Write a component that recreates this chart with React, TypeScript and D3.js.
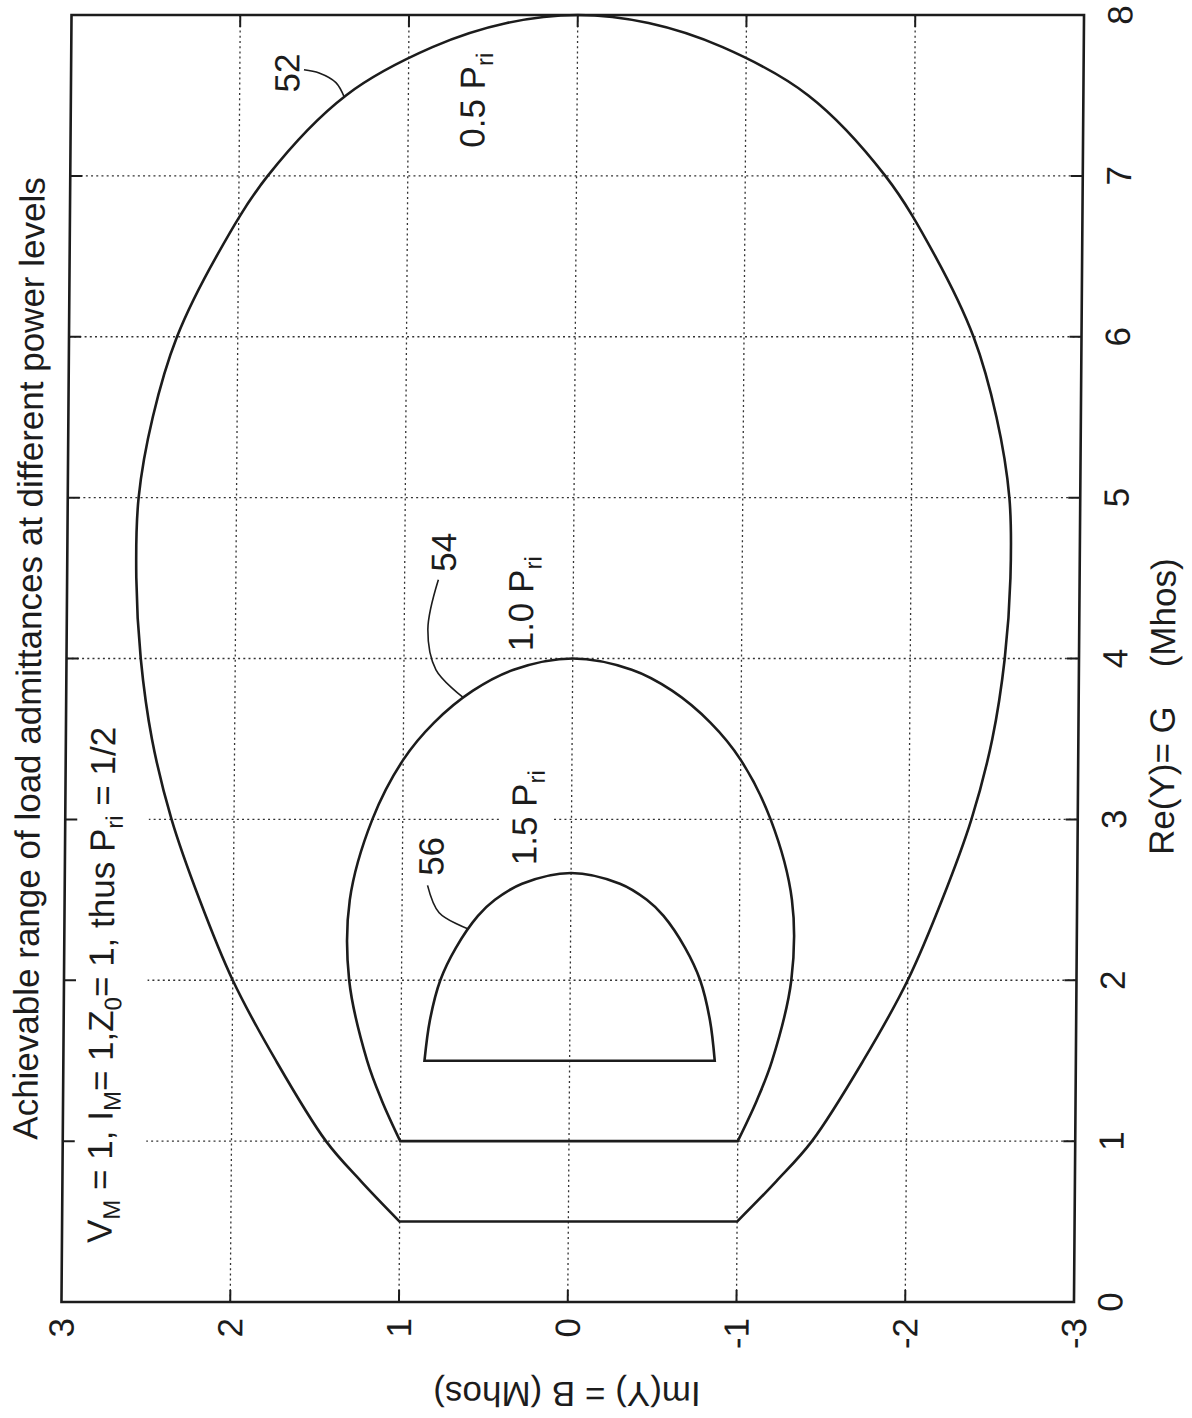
import React, { useLayoutEffect, useRef } from "react";
import * as d3 from "d3";

type Pt = [number, number]; // [G, B]

const gTicks = [0, 1, 2, 3, 4, 5, 6, 7, 8];
const bTicks = [3, 2, 1, 0, -1, -2, -3];
const gGrid = [1, 2, 3, 4, 5, 6, 7];
const bGrid = [2, 1, 0, -1, -2];

const titleText = "Achievable range of load admittances at different power levels";
const xLabelText = "Re(Y)= G    (Mhos)";
const yLabelText = "Im(Y) = B (Mhos)";

// curve 52 : 0.5 P_ri
const curve52: Pt[] = [
  [0.5, 1.0], [0.75, 1.23], [1.0, 1.44], [1.5, 1.74], [2.0, 2.0], [2.5, 2.2],
  [3.0, 2.37], [3.5, 2.49], [4.0, 2.56], [4.5, 2.59], [5.0, 2.58], [5.5, 2.5],
  [6.0, 2.36], [6.5, 2.13], [7.0, 1.83], [7.5, 1.37], [7.8, 0.86], [7.95, 0.42], [8.0, 0],
  [7.95, -0.42], [7.8, -0.86], [7.5, -1.37], [7.0, -1.83], [6.5, -2.13], [6.0, -2.36],
  [5.5, -2.5], [5.0, -2.58], [4.5, -2.59], [4.0, -2.56], [3.5, -2.49], [3.0, -2.37],
  [2.5, -2.2], [2.0, -2.0], [1.5, -1.74], [1.0, -1.44], [0.75, -1.23], [0.5, -1.0],
];

// curve 54 : 1.0 P_ri
const curve54: Pt[] = [
  [1.0, 1.0], [1.25, 1.11], [1.5, 1.2], [2.0, 1.31], [2.5, 1.31], [3.0, 1.18],
  [3.37, 1.0], [3.6, 0.82], [3.8, 0.59], [3.93, 0.35], [4.0, 0],
  [3.93, -0.35], [3.8, -0.59], [3.6, -0.82], [3.37, -1.0], [3.0, -1.18],
  [2.5, -1.31], [2.0, -1.31], [1.5, -1.2], [1.25, -1.11], [1.0, -1.0],
];

// curve 56 : 1.5 P_ri
const curve56: Pt[] = [
  [1.5, 0.86], [1.75, 0.83], [2.0, 0.77], [2.2, 0.68], [2.4, 0.55], [2.5, 0.45],
  [2.6, 0.29], [2.667, 0],
  [2.6, -0.29], [2.5, -0.45], [2.4, -0.55], [2.2, -0.68], [2.0, -0.77], [1.75, -0.83], [1.5, -0.86],
];

// reference-number leader lines
const leader52: Pt[] = [[7.66, 1.62], [7.64, 1.53], [7.58, 1.43], [7.49, 1.38]];
const leader54: Pt[] = [[4.49, 0.8], [4.18, 0.86], [3.93, 0.81], [3.76, 0.65]];
const leader56: Pt[] = [[2.59, 0.85], [2.42, 0.78], [2.32, 0.61]];

const refLabels: { text: string; at: Pt }[] = [
  { text: "52", at: [7.64, 1.72] },
  { text: "54", at: [4.66, 0.77] },
  { text: "56", at: [2.77, 0.83] },
];
const powerLabels: { main: string; at: Pt }[] = [
  { main: "0.5 P", at: [7.47, 0.62] },
  { main: "1.0 P", at: [4.34, 0.31] },
  { main: "1.5 P", at: [3.01, 0.28] },
];

const W = 1192;
const H = 1418;
const FONT = "'Liberation Sans', Arial, Helvetica, sans-serif";
const FS = 35;
const INK = "#1c1c1c";

const xB = d3.scaleLinear().domain([3, -3]).range([66.5, 1079]);
const yG = d3.scaleLinear().domain([0, 8]).range([1302, 15]);

const shapeLine = d3
  .line<Pt>()
  .x((d) => xB(d[1]))
  .y((d) => yG(d[0]))
  .curve(d3.curveCatmullRom.alpha(0.5));

const leaderLine = d3
  .line<Pt>()
  .x((d) => xB(d[1]))
  .y((d) => yG(d[0]))
  .curve(d3.curveCatmullRom.alpha(0.5));

function Boxed(props: {
  transform: string;
  anchor: string;
  dy?: string;
  padAcross: number;
  padAlong: number;
  children: React.ReactNode;
}) {
  const tRef = useRef<SVGTextElement>(null);
  const rRef = useRef<SVGRectElement>(null);
  useLayoutEffect(() => {
    const t = tRef.current;
    const r = rRef.current;
    if (!t || !r) return;
    const bb = t.getBBox();
    r.setAttribute("x", String(bb.x - props.padAlong));
    r.setAttribute("y", String(bb.y - props.padAcross));
    r.setAttribute("width", String(bb.width + 2 * props.padAlong));
    r.setAttribute("height", String(bb.height + 2 * props.padAcross));
  });
  return (
    <g transform={props.transform}>
      <rect ref={rRef} fill="#fff" />
      <text
        ref={tRef}
        textAnchor={props.anchor as any}
        dy={props.dy}
        fontFamily={FONT}
        fontSize={FS}
        fill={INK}
        style={{ whiteSpace: "pre" }}
      >
        {props.children}
      </text>
    </g>
  );
}

export default function App() {
  const yc = 658;
  const skew = (Math.atan(-0.0078) * 180) / Math.PI;
  const x0 = xB(3);
  const x1 = xB(-3);
  const y0 = yG(8);
  const y1 = yG(0);
  const tick = 12;

  return (
    <svg
      width={W}
      height={H}
      viewBox={`0 0 ${W} ${H}`}
      style={{ position: "absolute", left: 0, top: 0, background: "#fff" }}
    >
      <rect x={0} y={0} width={W} height={H} fill="#fff" />
      <g transform={`translate(0,${yc}) skewX(${skew}) translate(0,${-yc})`}>
        {/* grid */}
        <g stroke="#333" strokeWidth={1.3} strokeDasharray="2 3.2" fill="none">
          {gGrid.map((g) => (
            <line key={"gg" + g} x1={x0} x2={x1} y1={yG(g)} y2={yG(g)} />
          ))}
          {bGrid.map((b) => (
            <line key={"bg" + b} x1={xB(b)} x2={xB(b)} y1={y0} y2={y1} />
          ))}
        </g>

        {/* title and subtitle */}
        <text
          transform={`translate(41,${yG(4)}) rotate(-90)`}
          textAnchor="middle"
          fontFamily={FONT}
          fontSize={FS}
          fill={INK}
        >
          {titleText}
        </text>
        <Boxed transform={`translate(116,1243) rotate(-90)`} anchor="start" padAcross={21} padAlong={8}>
          <tspan>V</tspan>
          <tspan dy={8} fontSize={24}>M</tspan>
          <tspan dy={-8}>{" = 1, I"}</tspan>
          <tspan dy={8} fontSize={24}>M</tspan>
          <tspan dy={-8}>{"= 1,Z"}</tspan>
          <tspan dy={8} fontSize={24}>0</tspan>
          <tspan dy={-8}>{"= 1, thus P"}</tspan>
          <tspan dy={8} fontSize={24}>ri</tspan>
          <tspan dy={-8}>{" = 1/2"}</tspan>
        </Boxed>

        {/* power level labels */}
        {powerLabels.map((p) => (
          <Boxed
            key={p.main}
            transform={`translate(${xB(p.at[1])},${yG(p.at[0])}) rotate(-90)`}
            anchor="middle"
            dy="0.35em"
            padAcross={3}
            padAlong={5}
          >
            <tspan>{p.main}</tspan>
            <tspan dy={8} fontSize={24}>ri</tspan>
          </Boxed>
        ))}

        {/* reference numerals */}
        {refLabels.map((r) => (
          <text
            key={r.text}
            transform={`translate(${xB(r.at[1])},${yG(r.at[0])}) rotate(-90)`}
            textAnchor="middle"
            dy="0.35em"
            fontFamily={FONT}
            fontSize={FS}
            fill={INK}
          >
            {r.text}
          </text>
        ))}
        <g stroke={INK} strokeWidth={1.6} fill="none">
          <path d={leaderLine(leader52) || ""} />
          <path d={leaderLine(leader54) || ""} />
          <path d={leaderLine(leader56) || ""} />
        </g>

        {/* curves */}
        <g stroke={INK} strokeWidth={2.6} fill="none" strokeLinejoin="miter">
          <path d={(shapeLine(curve52) || "") + "Z"} />
          <path d={(shapeLine(curve54) || "") + "Z"} />
          <path d={(shapeLine(curve56) || "") + "Z"} />
        </g>

        {/* ticks */}
        <g stroke={INK} strokeWidth={2}>
          {gTicks.slice(1, -1).map((g) => (
            <g key={"tg" + g}>
              <line x1={x0} x2={x0 + tick} y1={yG(g)} y2={yG(g)} />
              <line x1={x1} x2={x1 - tick} y1={yG(g)} y2={yG(g)} />
            </g>
          ))}
          {bTicks.slice(1, -1).map((b) => (
            <g key={"tb" + b}>
              <line x1={xB(b)} x2={xB(b)} y1={y1} y2={y1 - tick} />
              <line x1={xB(b)} x2={xB(b)} y1={y0} y2={y0 + tick} />
            </g>
          ))}
        </g>

        {/* frame */}
        <rect x={x0} y={y0} width={x1 - x0} height={y1 - y0} fill="none" stroke={INK} strokeWidth={2.6} />

        {/* tick labels */}
        {bTicks.map((b) => (
          <text
            key={"lb" + b}
            transform={`translate(${xB(b)},${y1 + 16}) rotate(-90)`}
            textAnchor="end"
            dy="0.35em"
            fontFamily={FONT}
            fontSize={FS}
            fill={INK}
          >
            {String(b)}
          </text>
        ))}
        {gTicks.map((g) => (
          <text
            key={"lg" + g}
            transform={`translate(1115,${yG(g)}) rotate(-90)`}
            textAnchor="middle"
            dy="0.35em"
            fontFamily={FONT}
            fontSize={FS}
            fill={INK}
          >
            {String(g)}
          </text>
        ))}

        {/* axis labels */}
        <text
          transform={`translate(1175,855) rotate(-90)`}
          textAnchor="start"
          fontFamily={FONT}
          fontSize={FS}
          fill={INK}
          style={{ whiteSpace: "pre" }}
        >
          {xLabelText}
        </text>
        <text
          transform={`translate(${xB(0)},1382) rotate(180)`}
          textAnchor="middle"
          fontFamily={FONT}
          fontSize={FS}
          fill={INK}
        >
          {yLabelText}
        </text>
      </g>
    </svg>
  );
}
